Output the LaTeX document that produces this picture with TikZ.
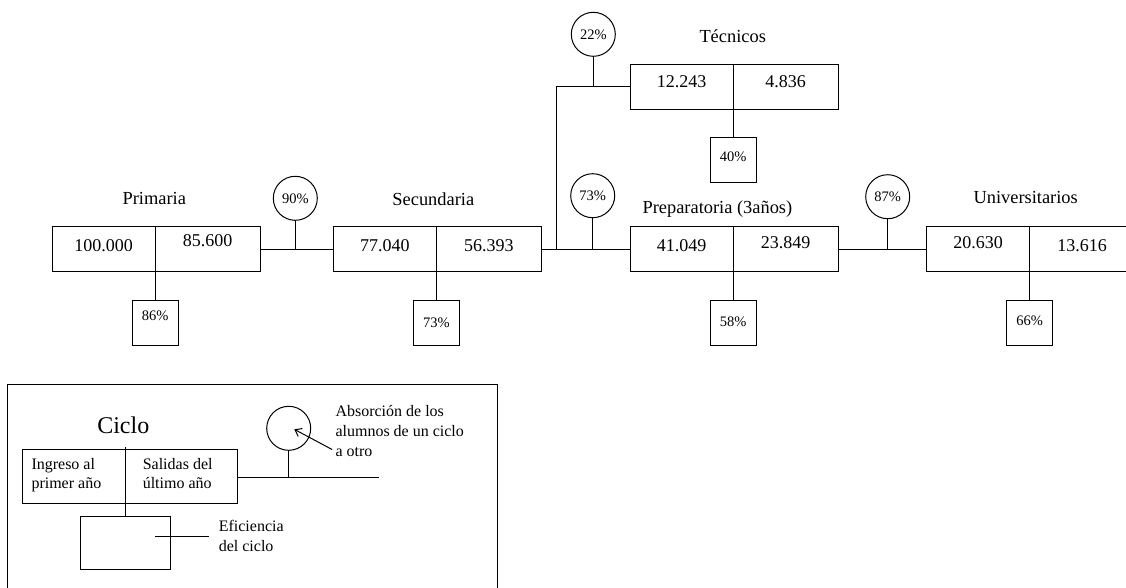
\documentclass[tikz,border=0pt]{standalone}
\usepackage{fontspec}
\setmainfont{Liberation Serif}
\usetikzlibrary{positioning,arrows.meta}

\tikzset{
  cell/.style={draw,minimum width=103pt,minimum height=45pt,inner sep=0pt,outer sep=0pt,
    font=\fontsize{18}{20}\selectfont,text height=12pt,text depth=8.6pt},
  cellr/.style={cell,minimum width=105pt},
  pbox/.style={draw,minimum width=46pt,minimum height=45pt,inner sep=0pt,outer sep=0pt,
    font=\fontsize{14.5}{16}\selectfont,text height=10pt},
  pcirc/.style={draw,circle,minimum size=44pt,inner sep=0pt,outer sep=0pt,
    font=\fontsize{14.5}{16}\selectfont},
  stage/.style={anchor=base,inner sep=0pt,font=\fontsize{18.4}{20}\selectfont},
  note/.style={anchor=base west,align=left,inner sep=0pt,
    font=\fontsize{16}{19.7}\selectfont},
}

\begin{document}
\begin{tikzpicture}[x=1pt,y=-1pt,line width=1pt,line cap=rect]
\useasboundingbox (0,0) rectangle (1126,587);
\clip (0,0) rectangle (1126,587);

% ciclos
\node[cell] (p1) at (103.7,249.3) {100.000};
\node[cellr,right=0pt of p1,text depth=17.2pt] (p2) {85.600};
\node[cell] (s1) at (384.8,249.3) {77.040};
\node[cellr,right=0pt of s1] (s2) {56.393};
\node[cell] (r1) at (681.7,249.3) {41.049};
\node[cellr,right=0pt of r1,text depth=13pt] (r2) {23.849};
\node[cell,text depth=13pt] (u1) at (978.2,249.3) {20.630};
\node[cellr,right=0pt of u1] (u2) {13.616};
\node[cell,text depth=10.8pt] (t1) at (681.7,86.7) {12.243};
\node[cellr,right=0pt of t1,text depth=10.8pt] (t2) {4.836};

\node[stage] (lprim) at (154.3,204) {Primaria};
\node[stage] (lsec) at (433.3,205) {Secundaria};
\node[stage] (lprep) at (717.4,213) {Preparatoria (3años)};
\node[stage] (luni) at (1025.7,203.3) {Universitarios};
\node[stage] (ltec) at (732.7,42.7) {Técnicos};

% eficiencia
\node[pbox,below=29pt of p1.south east,text depth=15pt] (e1) {86\%};
\node[pbox,below=29pt of s1.south east,text depth=2.4pt] (e2) {73\%};
\node[pbox,below=29pt of r1.south east,text depth=3.6pt] (e3) {58\%};
\node[pbox,below=29pt of u1.south east,text depth=6.4pt] (e4) {66\%};
\node[pbox,below=28.5pt of t1.south east,text depth=7.2pt] (e5) {40\%};
\foreach \a/\b in {p1/e1,s1/e2,r1/e3,u1/e4,t1/e5}
  \draw (\a.north east) -- (\b.north);

% absorcion
\node[pcirc] (c90) at (295.3,198.3) {90\%};
\node[pcirc] (c73) at (592.7,195.7) {73\%};
\node[pcirc] (c22) at (593.3,34.3) {22\%};
\node[pcirc] (c87) at (887.7,196.7) {87\%};
\coordinate (fork) at (556,249.3);

\draw (p2.east) -- (s1.west);
\draw (c90) -- (c90 |- p2.east);
\draw (s2.east) -- (r1.west);
\draw (c73) -- (c73 |- s2.east);
\draw (t1.west) -| (fork);
\draw (c22) -- (c22 |- t1.west);
\draw (r2.east) -- (u1.west);
\draw (c87) -- (c87 |- r2.east);

% leyenda
\draw (7.3,600) -- (7.3,384) -- (497.3,384) -- (497.3,600);
\node[anchor=base,inner sep=0pt,font=\fontsize{24}{26}\selectfont] (lciclo) at (123.3,433.3) {Ciclo};
\node[draw,outer sep=0pt,minimum width=103pt,minimum height=54pt] (k1) at (73.8,476.3) {};
\node[draw,outer sep=0pt,minimum width=112.4pt,minimum height=54pt,right=0pt of k1] (k2) {};
\node[draw,outer sep=0pt,minimum width=89.4pt,minimum height=52.3pt,below=13.4pt of k1.south east] (kef) {};
\draw ([yshift=2pt]k1.north east) -- (kef.north);
\node[pcirc] (kc) at (288.7,428.3) {};
\coordinate (kend) at (378.3,477.7);
\draw (k2.east |- kend) -- (kend);
\draw (kc) -- (kc |- kend);
\coordinate (ktail) at (331.7,449.3);
\coordinate (khead) at (294.3,429.3);
\draw[-{Straight Barb[length=6pt,width=9pt]}] (ktail) -- (khead);
\coordinate (kefin) at (155,536);
\coordinate (kefout) at (208.3,536);
\draw (kefin) -- (kefout);

\node[note] (kin) at (31,488.7) {Ingreso al\\primer año};
\node[note] (kout) at (142.3,488.7) {Salidas del\\último año};
\node[note] (kabs) at (335,456) {Absorción de los\\alumnos de un ciclo\\a otro};
\node[note] (keff) at (218.3,551) {Eficiencia\\del ciclo};
\end{tikzpicture}
\end{document}
